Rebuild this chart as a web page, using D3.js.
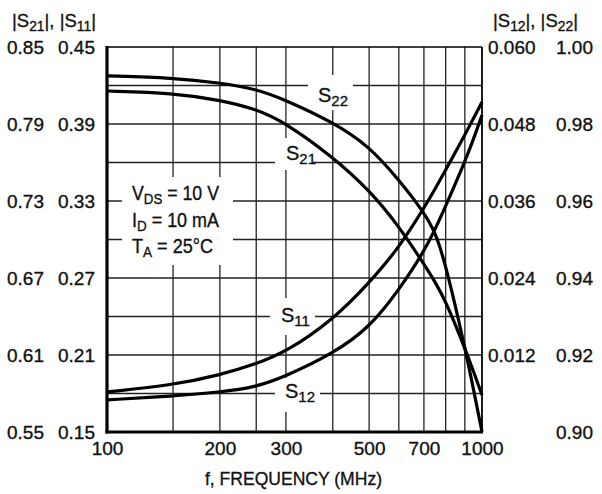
<!DOCTYPE html>
<html>
<head>
<meta charset="utf-8">
<script src="https://cdn.jsdelivr.net/npm/d3@7"></script>
<style>
  body { margin: 0; background: #fff; }
  text { font-family: "Liberation Sans Narrow", "Arial Narrow", "Liberation Sans", sans-serif; fill: #111; stroke: #111; stroke-width: 0.35px; }
</style>
</head>
<body>
<div id="chart"></div>
<script>
// frequency points (MHz) and magnitudes
var freqs = [100, 150, 200, 250, 300, 400, 500, 600, 700, 750, 800, 900, 950, 1000];
var s21 = [0.8157, 0.8142, 0.8087, 0.8017, 0.7908, 0.7643, 0.7386, 0.7105, 0.6809, 0.6669, 0.6521, 0.6155, 0.5968, 0.5788];
var s11 = [0.1812, 0.1866, 0.1944, 0.2030, 0.2123, 0.2373, 0.2661, 0.2934, 0.3245, 0.3394, 0.3542, 0.3814, 0.3947, 0.4071];
var s12 = [0.0050, 0.0056, 0.0062, 0.0070, 0.0087, 0.0122, 0.0162, 0.0221, 0.0281, 0.0316, 0.0352, 0.0421, 0.0457, 0.0494];
var s22 = [0.9925, 0.9920, 0.9907, 0.9891, 0.9862, 0.9805, 0.9743, 0.9655, 0.9571, 0.9520, 0.9436, 0.9221, 0.9109, 0.9000];

// tick labels
var s21Ticks = [0.55, 0.61, 0.67, 0.73, 0.79, 0.85];
var s11Ticks = [0.15, 0.21, 0.27, 0.33, 0.39, 0.45];
var s12Ticks = [0.012, 0.024, 0.036, 0.048, 0.060];
var s22Ticks = [0.90, 0.92, 0.94, 0.96, 0.98, 1.00];
var freqTicks = [100, 200, 300, 500, 700, 1000];
var gridFreqs = [150, 200, 250, 300, 400, 500, 600, 700, 800, 900];

var svgWidth = 602, svgHeight = 494;
var margin = { top: 47, left: 107 };
var width = 375, height = 385;

var svg = d3.select("#chart").append("svg")
    .attr("width", svgWidth)
    .attr("height", svgHeight);

var g = svg.append("g")
    .attr("transform", `translate(${margin.left}, ${margin.top})`);

var x = d3.scaleLog().domain([100, 1000]).range([0, width]);
var yS21 = d3.scaleLinear().domain([0.55, 0.85]).range([height, 0]);
var yS11 = d3.scaleLinear().domain([0.15, 0.45]).range([height, 0]);
var yS12 = d3.scaleLinear().domain([0, 0.060]).range([height, 0]);
var yS22 = d3.scaleLinear().domain([0.90, 1.00]).range([height, 0]);

// grid
var hGrid = d3.range(1, 10).map(i => 0.15 + i * 0.03);
g.selectAll(".hgrid").data(hGrid).enter().append("line")
    .attr("x1", 0).attr("x2", width)
    .attr("y1", d => yS11(d)).attr("y2", d => yS11(d))
    .attr("stroke", "#222").attr("stroke-width", 1.3);
g.selectAll(".vgrid").data(gridFreqs).enter().append("line")
    .attr("x1", d => x(d)).attr("x2", d => x(d))
    .attr("y1", 0).attr("y2", height)
    .attr("stroke", "#222").attr("stroke-width", 1.3);

// white boxes behind the labels (they cut the grid)
var boxes = [[201, 28, 45, 35], [168, 91, 38, 32], [15, 130, 111, 88], [163, 251, 45, 37], [168, 331, 45, 34]];
g.selectAll(".box").data(boxes).enter().append("rect")
    .attr("x", d => d[0]).attr("y", d => d[1])
    .attr("width", d => d[2]).attr("height", d => d[3])
    .attr("fill", "#fff");

// curves
var series = [
    { v: s22, y: yS22 },
    { v: s21, y: yS21 },
    { v: s11, y: yS11 },
    { v: s12, y: yS12 }
];
series.forEach(function(s) {
    var line = d3.line()
        .x((d, i) => x(freqs[i]))
        .y(d => s.y(d))
        .curve(d3.curveBasis);
    g.append("path")
        .datum(s.v)
        .attr("d", line)
        .attr("fill", "none")
        .attr("stroke", "#000")
        .attr("stroke-width", 3.2)
        .attr("stroke-linejoin", "round");
});

// frame
g.append("line").attr("x1", 0).attr("x2", width).attr("y1", 0).attr("y2", 0)
    .attr("stroke", "#000").attr("stroke-width", 1.6);
g.append("line").attr("x1", width).attr("x2", width).attr("y1", 0).attr("y2", height)
    .attr("stroke", "#000").attr("stroke-width", 1.8);
g.append("line").attr("x1", 0).attr("x2", 0).attr("y1", -1).attr("y2", height + 1.5)
    .attr("stroke", "#000").attr("stroke-width", 3.2);
g.append("line").attr("x1", -1.5).attr("x2", width + 1).attr("y1", height).attr("y2", height)
    .attr("stroke", "#000").attr("stroke-width", 3.2);

// axes (labels only)
function styleAxis(sel) {
    sel.select(".domain").remove();
    sel.selectAll("text").attr("font-size", "19px").style("fill", "#111");
}
g.append("g").attr("transform", "translate(-63, 0)")
    .call(d3.axisLeft(yS21).tickValues(s21Ticks).tickFormat(d3.format(".2f")).tickSize(0).tickPadding(0))
    .call(styleAxis);
g.append("g").attr("transform", "translate(-12, 0)")
    .call(d3.axisLeft(yS11).tickValues(s11Ticks).tickFormat(d3.format(".2f")).tickSize(0).tickPadding(0))
    .call(styleAxis);
g.append("g").attr("transform", `translate(${width + 6}, 0)`)
    .call(d3.axisRight(yS12).tickValues(s12Ticks).tickFormat(d3.format(".3f")).tickSize(0).tickPadding(0))
    .call(styleAxis);
g.append("g").attr("transform", `translate(${width + 74}, 0)`)
    .call(d3.axisRight(yS22).tickValues(s22Ticks).tickFormat(d3.format(".2f")).tickSize(0).tickPadding(0))
    .call(styleAxis);
g.append("g").attr("transform", `translate(0, ${height})`)
    .call(d3.axisBottom(x).tickValues(freqTicks).tickFormat(d3.format("d")).tickSize(0).tickPadding(10))
    .call(styleAxis);

g.append("text")
    .attr("x", 98).attr("y", height + 53)
    .attr("font-size", "19px")
    .attr("textLength", 177)
    .attr("lengthAdjust", "spacingAndGlyphs")
    .text("f, FREQUENCY (MHz)");

// text with subscripts
function subText(parent, px, py, parts, size, len) {
    var t = parent.append("text").attr("x", px).attr("y", py).attr("font-size", size + "px");
    parts.forEach(function(p) {
        if (p.sub) {
            t.append("tspan").attr("dy", 4).attr("font-size", (size * 0.75) + "px").text(p.sub);
        } else {
            t.append("tspan").attr("dy", p.back ? -4 : 0).text(p.t);
        }
    });
    if (len) t.attr("textLength", len).attr("lengthAdjust", "spacingAndGlyphs");
    return t;
}

// headers
subText(svg, 12, 27, [{ t: "|S" }, { sub: "21" }, { t: "|, |S", back: true }, { sub: "11" }, { t: "|", back: true }], 19, 84);
subText(svg, 493, 27, [{ t: "|S" }, { sub: "12" }, { t: "|, |S", back: true }, { sub: "22" }, { t: "|", back: true }], 19, 85);

// curve labels
subText(g, 211, 55, [{ t: "S" }, { sub: "22" }], 20);
subText(g, 179, 113, [{ t: "S" }, { sub: "21" }], 20);
subText(g, 174, 275, [{ t: "S" }, { sub: "11" }], 20);
subText(g, 178, 351, [{ t: "S" }, { sub: "12" }], 20);

// bias conditions
subText(g, 25, 153, [{ t: "V" }, { sub: "DS" }, { t: " = 10 V", back: true }], 20, 87);
subText(g, 25, 180, [{ t: "I" }, { sub: "D" }, { t: " = 10 mA", back: true }], 20, 87);
subText(g, 25, 206, [{ t: "T" }, { sub: "A" }, { t: " = 25°C", back: true }], 20, 81);
</script>
</body>
</html>
